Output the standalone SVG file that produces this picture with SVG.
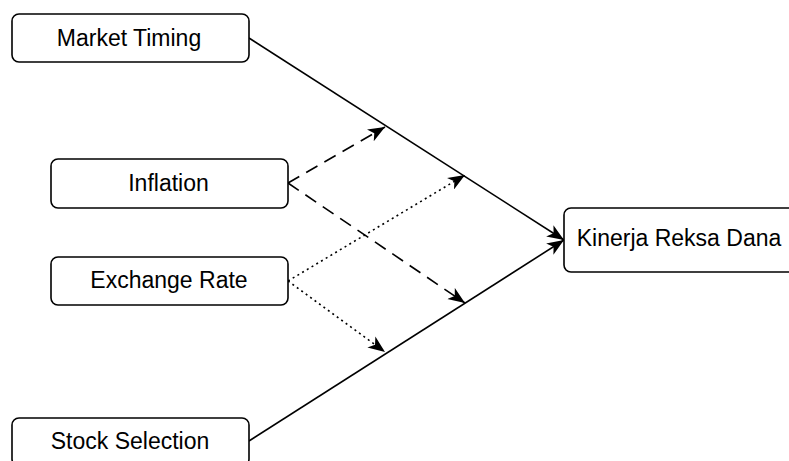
<svg xmlns="http://www.w3.org/2000/svg" width="789" height="461" viewBox="0 0 789 461">
<defs>
<style>
.box{fill:#fff;stroke:#000;stroke-width:1.6}
.lbl{font-family:"Liberation Sans",Arial,sans-serif;font-size:23px;fill:#000;text-anchor:middle}
.edge{fill:none;stroke:#000;stroke-width:1.6}
.dash{stroke-dasharray:13 8}
.dot{stroke-dasharray:2 3.5}
</style>
<marker id="arr" markerUnits="userSpaceOnUse" markerWidth="18" markerHeight="14" refX="15" refY="6" orient="auto" viewBox="0 0 16 12">
<path d="M0,0 L15,6 L0,12 L4,6 Z" fill="#000"/>
</marker>
</defs>
<rect width="789" height="461" fill="#fff"/>
<g id="connectors">
<line class="edge" x1="249" y1="38" x2="564" y2="240" marker-end="url(#arr)"/>
<line class="edge" x1="249" y1="441" x2="564" y2="240" marker-end="url(#arr)"/>
<line class="edge dash" x1="288" y1="183" x2="385" y2="127" marker-end="url(#arr)"/>
<line class="edge dash" x1="288" y1="183" x2="465" y2="303" marker-end="url(#arr)"/>
<line class="edge dot" x1="288" y1="281" x2="465" y2="175" marker-end="url(#arr)"/>
<line class="edge dot" x1="288" y1="281" x2="385" y2="352" marker-end="url(#arr)"/>
</g>
<g id="market-timing">
<rect class="box" x="12" y="14" width="237" height="48" rx="7"/>
<text class="lbl" x="129" y="46">Market Timing</text>
</g>
<g id="inflation">
<rect class="box" x="51" y="159" width="237" height="49" rx="7"/>
<text class="lbl" x="168.5" y="191">Inflation</text>
</g>
<g id="exchange-rate">
<rect class="box" x="51" y="257" width="237" height="48" rx="7"/>
<text class="lbl" x="169" y="288">Exchange Rate</text>
</g>
<g id="stock-selection">
<rect class="box" x="12" y="418" width="237" height="48" rx="7"/>
<text class="lbl" x="130" y="449">Stock Selection</text>
</g>
<g id="kinerja-reksa-dana">
<rect class="box" x="564" y="208" width="231" height="64" rx="7"/>
<text class="lbl" x="679" y="246">Kinerja Reksa Dana</text>
</g>
</svg>
